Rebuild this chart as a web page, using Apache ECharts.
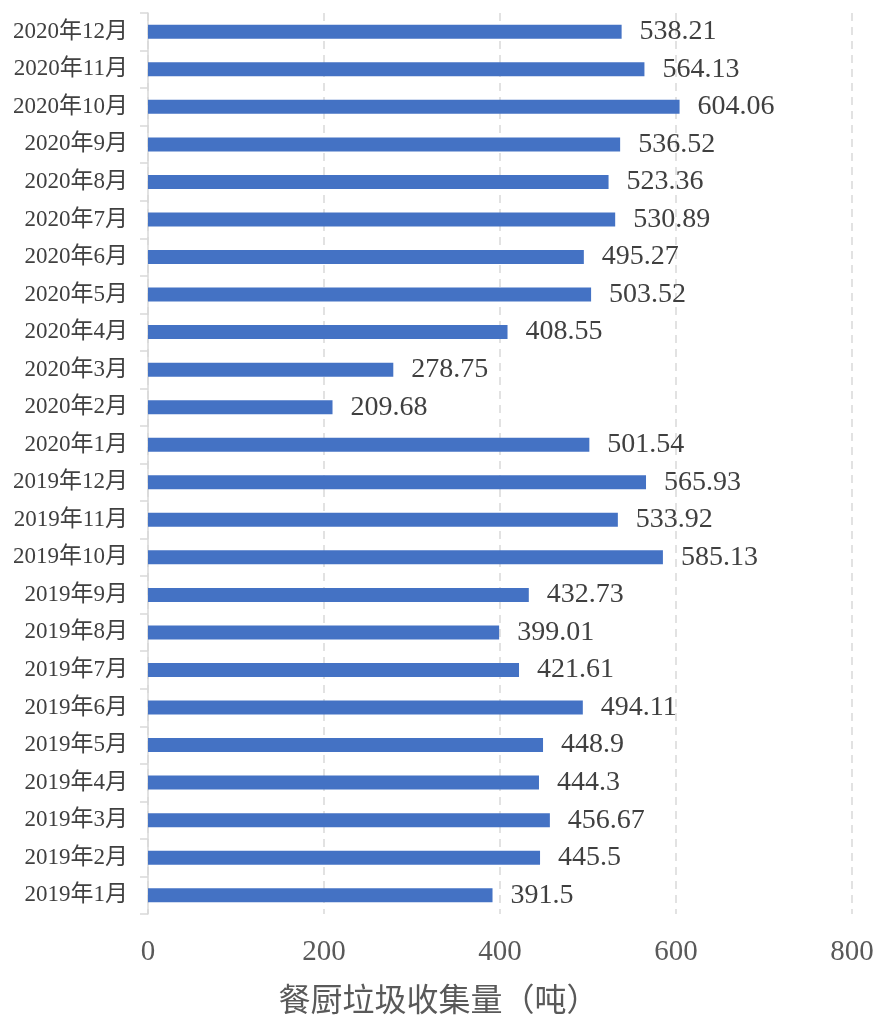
<!DOCTYPE html>
<html>
<head>
<meta charset="utf-8">
<script src="https://cdn.jsdelivr.net/npm/echarts@6/dist/echarts.min.js"></script>
<style>
  html, body { margin: 0; padding: 0; background: #fff; }
  #chart { width: 877px; height: 1019px; }
</style>
</head>
<body>
<div id="chart"></div>
<script>
// categories bottom -> top
var months = [
  "2019年1月", "2019年2月", "2019年3月", "2019年4月", "2019年5月", "2019年6月",
  "2019年7月", "2019年8月", "2019年9月", "2019年10月", "2019年11月", "2019年12月",
  "2020年1月", "2020年2月", "2020年3月", "2020年4月", "2020年5月", "2020年6月",
  "2020年7月", "2020年8月", "2020年9月", "2020年10月", "2020年11月", "2020年12月"
];
var amounts = [
  391.5, 445.5, 456.67, 444.3, 448.9, 494.11,
  421.61, 399.01, 432.73, 585.13, 533.92, 565.93,
  501.54, 209.68, 278.75, 408.55, 503.52, 495.27,
  530.89, 523.36, 536.52, 604.06, 564.13, 538.21
];
var xName = "餐厨垃圾收集量（吨）";

var font = "'Liberation Serif', 'Times New Roman', 'Noto Sans CJK SC', serif";
var textColor = "#404040";

var chart = echarts.init(document.getElementById("chart"));
chart.setOption({
  animation: false,
  // axis name sits centred on the whole picture, not the plot
  title: {
    text: xName,
    left: "center",
    top: 987,
    padding: 0,
    textStyle: { fontFamily: font, fontSize: 32, fontWeight: "normal", color: "#595959" }
  },
  grid: { left: 148, right: 25, top: 13, bottom: 105, containLabel: false, outerBoundsMode: "none" },
  xAxis: {
    type: "value",
    min: 0,
    max: 800,
    interval: 200,
    axisLine: { show: false },
    axisTick: { show: false },
    axisLabel: { fontFamily: font, fontSize: 29, color: "#595959", margin: 24 },
    splitLine: { lineStyle: { color: "#d9d9d9", type: [8, 6], width: 1.5 } }
  },
  yAxis: {
    type: "category",
    data: months,
    axisLine: { lineStyle: { color: "#d9d9d9", width: 1.5 } },
    axisTick: { show: true, length: 8, lineStyle: { color: "#d9d9d9", width: 1.5 } },
    axisLabel: { fontFamily: font, fontSize: 23, color: textColor, margin: 20 }
  },
  series: [
    {
      type: "bar",
      data: amounts,
      barWidth: 14,
      itemStyle: { color: "#4472c4" },
      label: {
        show: true,
        position: "right",
        distance: 18,
        fontFamily: font,
        fontSize: 28,
        color: textColor
      }
    }
  ]
});
</script>
</body>
</html>
